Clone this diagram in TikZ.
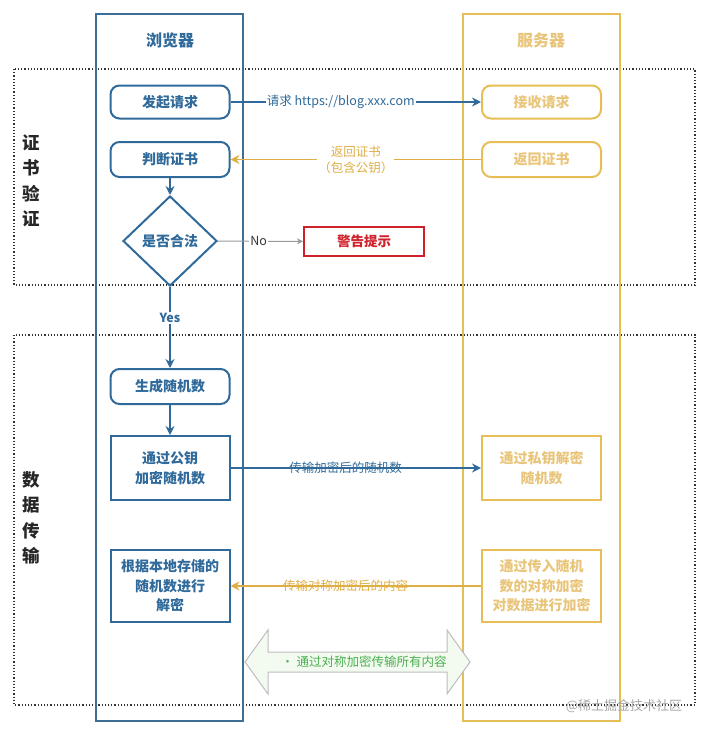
\documentclass[tikz,border=0pt]{standalone}
\usepackage{fontspec}
\setmainfont{Noto Sans CJK SC}
\usetikzlibrary{shapes.geometric,arrows.meta}
\definecolor{blueC}{HTML}{2F6A9A}
\definecolor{laneBlue}{HTML}{3D6F96}
\definecolor{laneGold}{HTML}{E6BE55}
\definecolor{goldArrow}{HTML}{DFAE45}
\definecolor{goldText}{HTML}{E8C57A}
\definecolor{redC}{HTML}{D0202A}
\definecolor{greenT}{HTML}{4CAF50}
\definecolor{greenF}{HTML}{F3FBF0}
\definecolor{outlineG}{HTML}{BDBDBD}
\begin{document}
\begin{tikzpicture}[x=1pt,y=-1pt,
  lane/.style={draw=#1, line width=2.2pt, minimum height=707pt, inner sep=0pt},
  lanetitle/.style={font=\bfseries\fontsize{16}{18}\selectfont, text=#1},
  bround/.style={draw=blueC, line width=2pt, rounded corners=9pt, minimum width=119pt, minimum height=33pt, font=\bfseries\fontsize{14}{16}\selectfont, text=blueC, align=center, inner sep=2pt},
  brect/.style={draw=blueC, line width=2pt, minimum width=119pt, font=\bfseries\fontsize{14}{19.5}\selectfont, text=blueC, align=center, inner sep=2pt},
  sround/.style={draw=laneGold, line width=2pt, rounded corners=9pt, minimum width=119pt, minimum height=33pt, font=\bfseries\fontsize{14}{16}\selectfont, text=goldText, align=center, inner sep=2pt},
  srect/.style={draw=laneGold, line width=2pt, minimum width=119pt, font=\bfseries\fontsize{14}{19.5}\selectfont, text=goldText, align=center, inner sep=2pt},
  sidelabel/.style={font=\bfseries\fontsize{17.5}{25.5}\selectfont, text=black!85, align=center},
  zone/.style={draw=black!80, line width=1.2pt, dotted},
  barrow/.style={draw=blueC, line width=2pt, -{Stealth[length=9pt,width=9pt]}},
  garrow/.style={draw=goldArrow, line width=1.8pt, -{Stealth[length=9pt,width=9pt]}},
  alabel/.style={font=\fontsize{12.5}{15}\selectfont, inner sep=1pt}
]
\useasboundingbox (0,0) rectangle (709,734);

% dotted zones
\draw[zone] (14,69) rectangle (695,285);
\draw[zone] (14,335) rectangle (695,705);

% lanes
\node[lane=laneBlue, minimum width=147pt] (laneB) at (169.5,367.5) {};
\node[lane=laneGold, minimum width=157pt] (laneS) at (541.5,367.5) {};
\node[lanetitle=blueC] (tB) at (170,40) {浏览器};
\node[lanetitle=goldText] (tS) at (541,40) {服务器};

% side labels
\node[sidelabel] (L1) at (31,181) {证\\书\\验\\证};
\node[sidelabel] (L2) at (31,518) {数\\据\\传\\输};

% browser nodes
\node[bround] (req) at (170,102) {发起请求};
\node[bround, minimum height=35pt] (judge) at (170,159.5) {判断证书};
\node[diamond, draw=blueC, line width=2pt, minimum width=94pt, minimum height=90pt, inner sep=0pt, font=\bfseries\fontsize{14}{16}\selectfont, text=blueC] (legal) at (170,241) {是否合法};
\node[draw=redC, line width=2pt, minimum width=120pt, minimum height=29pt, inner sep=0pt, font=\bfseries\fontsize{13.5}{15}\selectfont, text=redC] (warn) at (364,241.5) {警告提示};
\node[bround, minimum height=35pt] (gen) at (170,386.5) {生成随机数};
\node[brect, minimum height=64pt] (enc) at (170,468) {通过公钥\\加密随机数};
\node[brect, minimum height=72pt] (dec) at (170,586) {根据本地存储的\\随机数进行\\解密};

% server nodes
\node[sround] (recv) at (541.5,102) {接收请求};
\node[sround, minimum height=35pt] (ret) at (541.5,159.5) {返回证书};
\node[srect, minimum height=64pt] (sdec) at (541.5,468) {通过私钥解密\\随机数};
\node[srect, minimum height=72pt] (senc) at (541.5,586) {通过传入随机\\数的对称加密\\对数据进行加密};

% connectors
\draw[barrow] (req) -- node[pos=0.44, alabel, fill=white, text=blueC] {请求 https://blog.xxx.com} (recv);
\draw[garrow] (ret) -- node[pos=0.5, alabel, fill=white, text=goldArrow, align=center, font=\fontsize{12.5}{16}\selectfont] {返回证书\\（包含公钥）} (judge);
\draw[barrow, line width=1.6pt] (judge) -- (legal);
\draw[draw=gray!80, line width=1pt, -{Stealth[length=6pt,width=6pt]}] (legal) -- node[pos=0.48, alabel, fill=white, text=black!80] {No} (warn);
\draw[barrow, line width=1.6pt] (legal) -- node[pos=0.38, alabel, fill=white, text=blueC, font=\bfseries\fontsize{12.5}{15}\selectfont] {Yes} (gen);
\draw[barrow, line width=1.6pt] (gen) -- (enc);
\draw[barrow] (enc) -- node[pos=0.46, alabel, text=blueC] {传输加密后的随机数} (sdec);
\draw[garrow] (senc) -- node[pos=0.54, alabel, text=goldArrow] {传输对称加密后的内容} (dec);

% big double arrow
\coordinate (dl) at (245,662);
\coordinate (dr) at (470,662);
\draw[draw=outlineG, fill=greenF, line width=1pt]
  (dl) -- (268,630) -- (268,652) -- (447,652) -- (447,630) -- (dr)
  -- (447,694) -- (447,672) -- (268,672) -- (268,694) -- cycle;
\node[font=\fontsize{12.5}{15}\selectfont, text=greenT] (sym) at (364,662) {• 通过对称加密传输所有内容};

% watermark
\node[font=\fontsize{13}{15}\selectfont, text=gray!70] (wm) at (624,706) {@稀土掘金技术社区};
\end{tikzpicture}
\end{document}
